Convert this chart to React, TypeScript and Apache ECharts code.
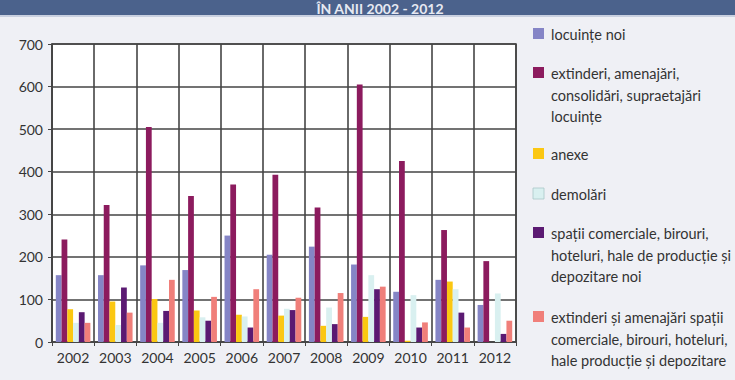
import React, { useEffect, useRef } from "react";
import * as echarts from "echarts";

const years = ["2002", "2003", "2004", "2005", "2006", "2007", "2008", "2009", "2010", "2011", "2012"];
const locuinteNoi = [157, 157, 180, 169, 250, 205, 224, 182, 118, 146, 87];
const extinderiLocuinte = [241, 322, 505, 343, 370, 393, 316, 605, 425, 263, 190];
const anexe = [77, 95, 101, 74, 64, 62, 38, 59, 3, 142, 0];
const demolari = [45, 40, 45, 58, 60, 78, 81, 157, 110, 124, 114];
const spatiiNoi = [70, 128, 73, 50, 34, 75, 42, 124, 34, 69, 19];
const extinderiSpatii = [45, 69, 146, 106, 124, 104, 115, 130, 46, 34, 50];

const seriesNames = [
  "locuințe noi",
  "extinderi, amenajări,\nconsolidări, supraetajări\nlocuințe",
  "anexe",
  "demolări",
  "spații comerciale, birouri,\nhoteluri, hale de producție și\ndepozitare noi",
  "extinderi și amenajări spații\ncomerciale, birouri, hoteluri,\nhale producție și depozitare",
];
const seriesColors = ["#8585c6", "#8c1b5e", "#fbc712", "#d9f0f0", "#5b1a72", "#f07f7a"];
const seriesData = [locuinteNoi, extinderiLocuinte, anexe, demolari, spatiiNoi, extinderiSpatii];
const titleText = "ÎN ANII 2002 - 2012";

const FONT = "Lato, 'Liberation Sans', sans-serif";

export default function App() {
  const ref = useRef<HTMLDivElement>(null);
  useEffect(() => {
    if (!ref.current) return;
    const chart = echarts.init(ref.current, null, { renderer: "svg" });
    const legendY = [34, 73, 154, 194, 233, 317];
    const legendGraphics: any[] = [];
    seriesNames.forEach((name, i) => {
      legendGraphics.push({
        type: "rect",
        shape: { x: 533, y: legendY[i] - 6, width: 11, height: 11 },
        style: { fill: seriesColors[i], stroke: i === 3 ? "#a9c6c8" : "none", lineWidth: 0.8 },
      });
      legendGraphics.push({
        type: "text",
        x: 551,
        y: legendY[i] - 10,
        style: {
          text: name,
          font: `14.5px ${FONT}`,
          fill: "#333333",
          lineHeight: 21.5,
          textVerticalAlign: "top",
        },
      });
    });
    chart.setOption({
      animation: false,
      backgroundColor: "#eff0f5",
      grid: {
        left: 52,
        right: 219,
        top: 44,
        bottom: 38,
        show: true,
        backgroundColor: "#ffffff",
        borderColor: "#454545",
        borderWidth: 1.6,
      },
      xAxis: {
        type: "category",
        data: years,
        axisLine: { lineStyle: { color: "#454545", width: 1.6 } },
        axisTick: { show: true, length: 4, lineStyle: { color: "#454545" } },
        axisLabel: { color: "#333333", fontSize: 14, fontFamily: FONT, margin: 8, interval: 0 },
        splitLine: { show: true, lineStyle: { color: "#454545", width: 1.6 } },
      },
      yAxis: {
        type: "value",
        min: 0,
        max: 700,
        interval: 100,
        axisLine: { show: true, lineStyle: { color: "#454545", width: 1.6 } },
        axisTick: { show: true, length: 4, lineStyle: { color: "#454545" } },
        axisLabel: { color: "#333333", fontSize: 14, fontFamily: FONT, margin: 9 },
        splitLine: { show: true, lineStyle: { color: "#454545", width: 1.6 } },
      },
      series: seriesData.map((d, i) => ({
        type: "bar",
        name: seriesNames[i],
        data: d,
        itemStyle: { color: seriesColors[i] },
        barGap: "0%",
        barCategoryGap: "18%",
      })),
      graphic: [
        {
          type: "rect",
          shape: { x: 0, y: 0, width: 735, height: 15 },
          style: { fill: "#4b628c" },
        },
        {
          type: "rect",
          shape: { x: 0, y: 15, width: 735, height: 2 },
          style: { fill: "#c9d0e0" },
        },
        {
          type: "text",
          x: 380,
          y: 1,
          style: {
            text: titleText,
            font: `bold 14px ${FONT}`,
            fill: "#e6e9f2",
            textAlign: "center",
            textVerticalAlign: "top",
          },
        },
        ...legendGraphics,
      ],
    });
    return () => chart.dispose();
  }, []);
  return <div ref={ref} style={{ position: "fixed", left: 0, top: 0, width: 735, height: 380 }} />;
}
